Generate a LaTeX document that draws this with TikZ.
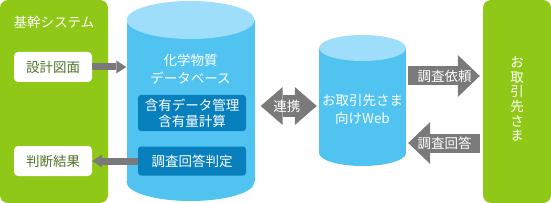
\documentclass[tikz,border=0pt]{standalone}
\usepackage{fontspec}
\newfontfamily\jp{Noto Sans CJK JP}
\usetikzlibrary{arrows.meta, positioning, calc}
\definecolor{coregreen}{RGB}{143, 200, 22}
\definecolor{textgreen}{RGB}{80, 115, 40}
\definecolor{dbside}{RGB}{80, 195, 240}
\definecolor{dbtop}{RGB}{158, 222, 251}
\definecolor{funcblue}{RGB}{8, 128, 190}
\definecolor{arrowgray}{RGB}{122, 122, 122}

\begin{document}
\begin{tikzpicture}[x=1pt, y=-1pt,
  jptext/.style={font=\jp\fontsize{13.5}{16}\selectfont, inner sep=0pt, align=center},
  title/.style={jptext, text=white, font=\jp\fontsize{13.5}{18}\selectfont},
  panel/.style={fill=coregreen, rounded corners=8pt, minimum height=203pt, inner sep=0pt},
  docbox/.style={jptext, fill=white, text=textgreen, rounded corners=4pt, minimum width=78pt, minimum height=30pt},
  funcbox/.style={jptext, fill=funcblue, text=white, rounded corners=3pt, minimum width=108pt},
  pipe/.style={arrowgray, line width=7pt, -{Triangle[length=10pt, width=13pt, line width=0pt]}},
  bigarrow/.style={arrowgray, line width=#1},
  arrowtext/.style={jptext, text=white},
]
  \useasboundingbox (0,0) rectangle (551,203);

  % 基幹システム
  \node[panel, minimum width=108pt] (core) at (54,101.5) {};
  \node[title] (coretitle) at (54,22) {基幹システム};
  \node[docbox] (design) at (53,67) {設計図面};
  \node[docbox] (result) at (53,161) {判断結果};

  % 化学物質データベース
  \node[fill=dbside, minimum width=128pt, minimum height=162pt, inner sep=0pt] (chemdb) at (190.5,101) {};
  \fill[dbside] (190.5,182) ellipse [x radius=64, y radius=19];
  \fill[dbtop] (190.5,20) ellipse [x radius=64, y radius=19];
  \node[title] (chemtitle) at (190.5,69) {化学物質\\データベース};
  \node[funcbox, minimum height=36pt] (manage) at (192,113) {含有データ管理\\含有量計算};
  \node[funcbox, minimum height=29pt] (judge) at (192,161) {調査回答判定};

  % お取引先さま向けWeb
  \node[fill=dbside, minimum width=87pt, minimum height=105pt, inner sep=0pt] (webdb) at (362.5,100.5) {};
  \fill[dbside] (362.5,153) ellipse [x radius=43.5, y radius=13];
  \fill[dbtop] (362.5,48) ellipse [x radius=43.5, y radius=13];
  \node[title] (webtitle) at (362.5,109) {お取引先さま\\向けWeb};

  % お取引先さま
  \node[panel, minimum width=68pt] (partner) at (517,101.5) {};
  \node[title, font=\jp\fontsize{13.5}{14.7}\selectfont] (partnertitle) at (517,99) {お\\取\\引\\先\\さ\\ま};

  \draw[pipe] (design.east) -- (design.east -| chemdb.west);
  \draw[pipe] (judge.west) -- (judge.west -| result.east);

  \draw[bigarrow=22pt, {Triangle[length=22pt, width=38pt, line width=0pt]}-{Triangle[length=22pt, width=38pt, line width=0pt]}, shorten <=6pt, shorten >=2pt]
    (chemdb.east |- 0,106) -- (webdb.west |- 0,106) node[arrowtext, midway] (linklabel) {連携};
  \draw[bigarrow=19pt, -{Triangle[length=22pt, width=42pt, line width=0pt]}, shorten <=2pt, shorten >=3pt]
    (webdb.east |- 0,76) -- (partner.west |- 0,76) node[arrowtext, midway] (asklabel) {調査依頼};
  \draw[bigarrow=19pt, -{Triangle[length=22pt, width=42pt, line width=0pt]}, shorten <=3pt, shorten >=2pt]
    (partner.west |- 0,143) -- (webdb.east |- 0,143) node[arrowtext, midway] (replylabel) {調査回答};
\end{tikzpicture}
\end{document}
